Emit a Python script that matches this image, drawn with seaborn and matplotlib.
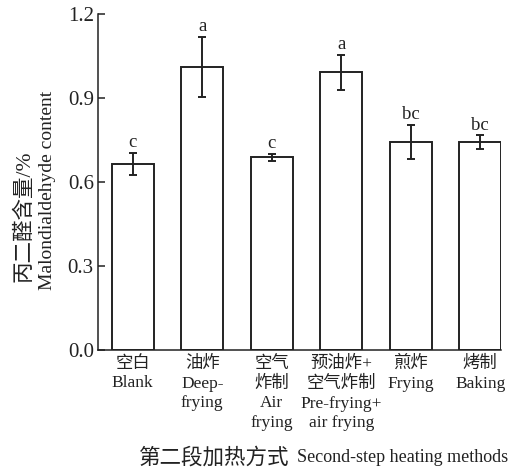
import matplotlib
matplotlib.use("Agg")
import matplotlib.pyplot as plt
import seaborn as sns
import pandas as pd

methods = [
    "空白\nBlank",
    "油炸\nDeep-\nfrying",
    "空气\n炸制\nAir\nfrying",
    "预油炸+\n空气炸制\nPre-frying+\nair frying",
    "煎炸\nFrying",
    "烤制\nBaking",
]
mda = [0.665, 1.010, 0.688, 0.992, 0.743, 0.743]
sd = [0.040, 0.108, 0.013, 0.062, 0.060, 0.024]
letters = ["c", "a", "c", "a", "bc", "bc"]

sns.set_style("ticks")
fonts = ["Liberation Serif", "Noto Sans CJK SC"]
plt.rcParams["font.family"] = fonts
plt.rcParams["axes.unicode_minus"] = False
ink = "#222222"

df = pd.DataFrame({"method": methods, "mda": mda})

fig = plt.figure(figsize=(5.14, 4.71), dpi=100)
ax = fig.add_axes([98 / 514, 121 / 471, 403 / 514, 336 / 471])

sns.barplot(
    data=df, x="method", y="mda", ax=ax,
    color="white", edgecolor=ink, linewidth=1.4, width=0.6,
    errorbar=None
)
ax.errorbar(
    range(len(mda)), mda, yerr=sd, fmt="none",
    ecolor=ink, elinewidth=1.4, capsize=2.7, capthick=1.4
)
for i, (m, s, l) in enumerate(zip(mda, sd, letters)):
    ax.text(i, m + s + 0.006, l, ha="center", va="bottom", fontsize=13.5,
            color=ink)

ax.set_xlim(-0.5, 5.3)
ax.set_ylim(0, 1.2)
ax.set_yticks([0.0, 0.3, 0.6, 0.9, 1.2])
ax.set_yticklabels(["0.0", "0.3", "0.6", "0.9", "1.2"], fontsize=15)
ax.set_xticklabels(methods, fontsize=12.5, linespacing=1.32)
ax.tick_params(axis="y", direction="in", length=5, width=1.1, pad=3,
               colors=ink)
ax.tick_params(axis="x", direction="in", length=3.5, width=1.1, pad=4,
               colors=ink)
ax.set_xlabel("")
ax.set_ylabel("")

# y axis title: two lines, Chinese and English
fig.text(24 / 514, 1 - 216 / 471, "丙二醛含量/%", rotation=90,
         ha="center", va="center", fontsize=15.5, color=ink,
         fontweight="light")
fig.text(48 / 514, 1 - 190 / 471, "Malondialdehyde content", rotation=90,
         ha="center", va="center", fontsize=14, color=ink)

# x axis title
fig.text(289 / 514, 13 / 471, "第二段加热方式", ha="right", va="center",
         fontsize=15.5, color=ink, fontweight="light")
fig.text(297 / 514, 13 / 471, "Second-step heating methods", ha="left",
         va="center", fontsize=13, color=ink)

sns.despine(ax=ax)
for sp in ["left", "bottom"]:
    ax.spines[sp].set_linewidth(1.1)
    ax.spines[sp].set_color(ink)

fig.savefig("out.png", dpi=100, facecolor="white")
